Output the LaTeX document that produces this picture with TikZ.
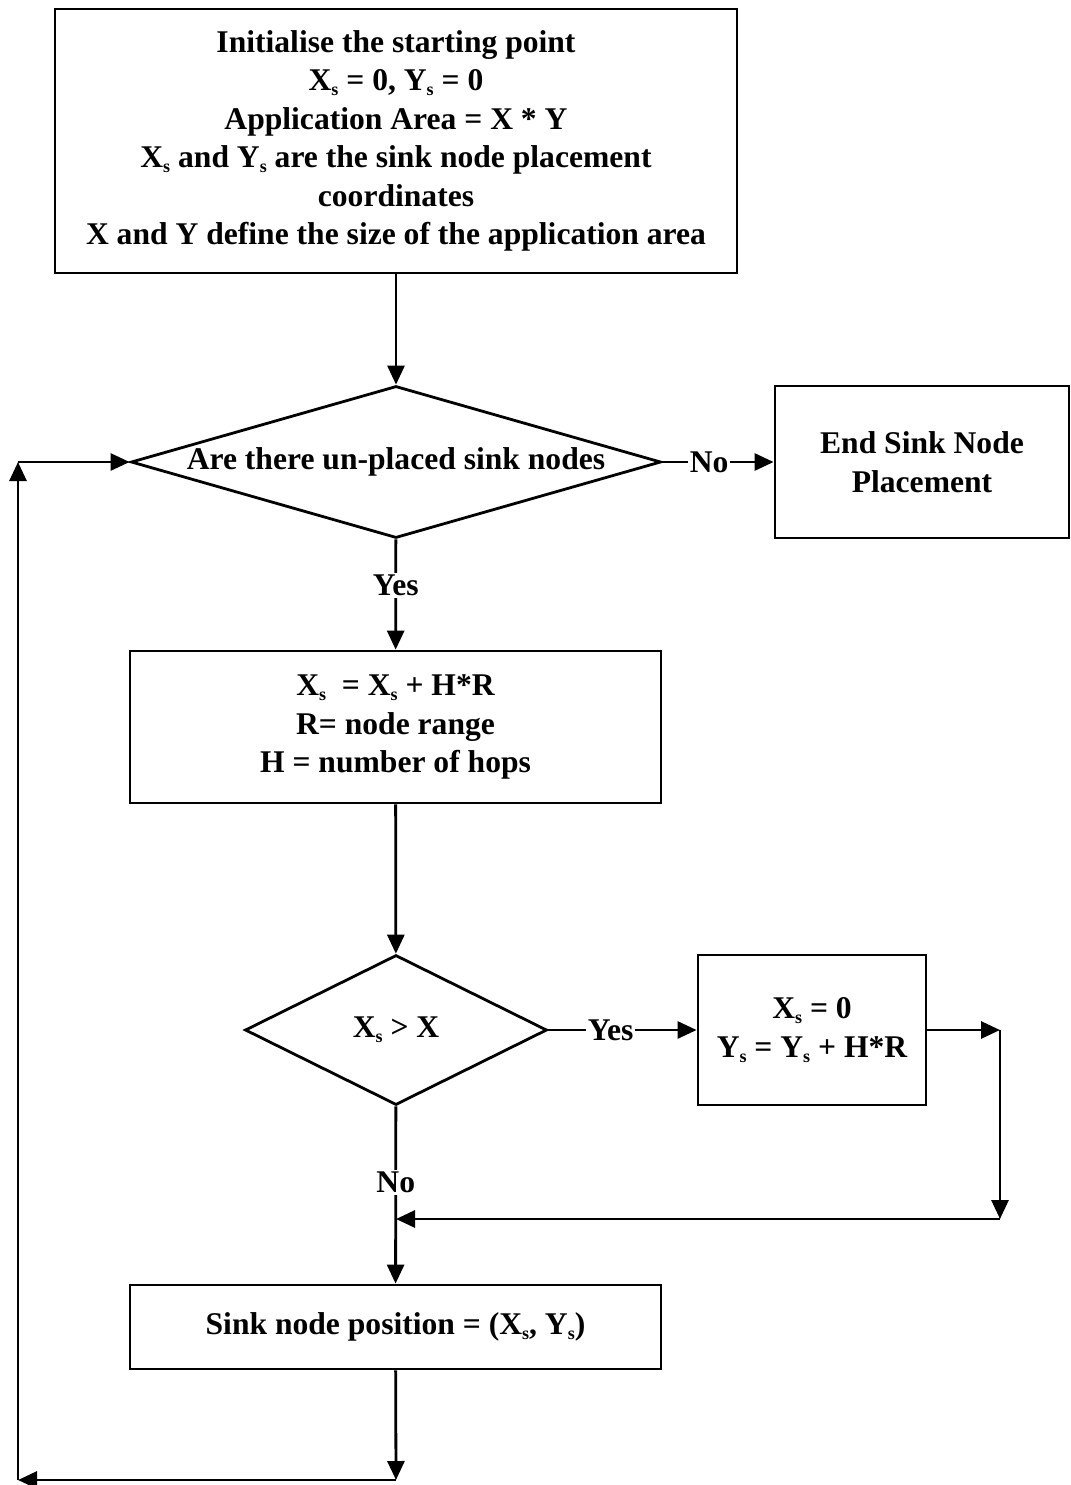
\documentclass[tikz,border=0pt]{standalone}
\usepackage{fontspec}
\setmainfont{Liberation Serif}
\usetikzlibrary{arrows.meta,shapes.geometric}

\newcommand{\sub}{\raisebox{-2.5pt}{\fontsize{9}{9}\selectfont s}}

\begin{document}
\begin{tikzpicture}[x=0.5pt, y=-0.5pt,
    font=\fontsize{15.8}{19.25}\selectfont\bfseries,
    every path/.style={line width=1.4pt},
    box/.style={draw, rectangle, align=center, inner sep=0pt},
    decision/.style={draw, diamond, inner sep=0pt},
    flow/.style={-{Triangle[length=9.5pt, width=8.5pt]}},
    tag/.style={fill=white, inner sep=1pt}]

  \useasboundingbox (0,0) rectangle (1071,1485);

  % Boxes
  \node[box, minimum width=341pt, minimum height=132pt] (init) at (396,141)
    {Initialise the starting point\\
     X\sub{} = 0, Y\sub{} = 0\\
     Application Area = X * Y\\
     X\sub{} and Y\sub{} are the sink node placement\\
     coordinates\\
     X and Y define the size of the application area};
  \node[box, minimum width=147pt, minimum height=76pt] (stop) at (922,462)
    {End Sink Node\\ Placement};
  \node[box, minimum width=265.5pt, minimum height=76pt] (update) at (395.5,727)
    {X\sub\ \ = X\sub{} + H*R\\
     R= node range\\
     H = number of hops};
  \node[box, minimum width=114pt, minimum height=75pt] (reset) at (812,1030)
    {X\sub{} = 0\\ Y\sub{} = Y\sub{} + H*R};
  \node[box, minimum width=265.5pt, minimum height=42pt] (place) at (395.5,1327)
    {Sink node position = (X\sub, Y\sub)};

  % Decisions
  \node[decision, minimum width=265pt, minimum height=76pt,
    label=center:{Are there un-placed sink nodes}] (more) at (396,462) {};
  \node[decision, minimum width=151pt, minimum height=75pt,
    label=center:{X\sub{} > X}] (check) at (396,1030) {};

  % Corner points
  \coordinate (c1) at (1000,1030);
  \coordinate (c2) at (1000,1219);
  \coordinate (c3) at (396,1219);
  \coordinate (c4) at (396,1480);
  \coordinate (c5) at (18,1480);
  \coordinate (c6) at (18,462);

  % Connectors
  \draw[flow] (init) -- (more);
  \draw[flow] (more) -- node[tag, pos=0.42] {No} (stop);
  \draw[flow] (more) -- node[tag, pos=0.42] {Yes} (update);
  \draw[flow] (update) -- (check);
  \draw[flow] (check) -- node[tag, pos=0.42] {Yes} (reset);
  \draw[flow] (check) -- node[tag, pos=0.43] {No} (place);

  % Return path from the reset box
  \draw[flow] (reset) -- (c1);
  \draw[flow] (c1) -- (c2);
  \draw[flow] (c2) -- (c3);

  % Loop back to the first decision
  \draw[flow] (place) -- (c4);
  \draw[flow] (c4) -- (c5);
  \draw[flow] (c5) -- (c6);
  \draw[flow] (c6) -- (more);

\end{tikzpicture}
\end{document}
